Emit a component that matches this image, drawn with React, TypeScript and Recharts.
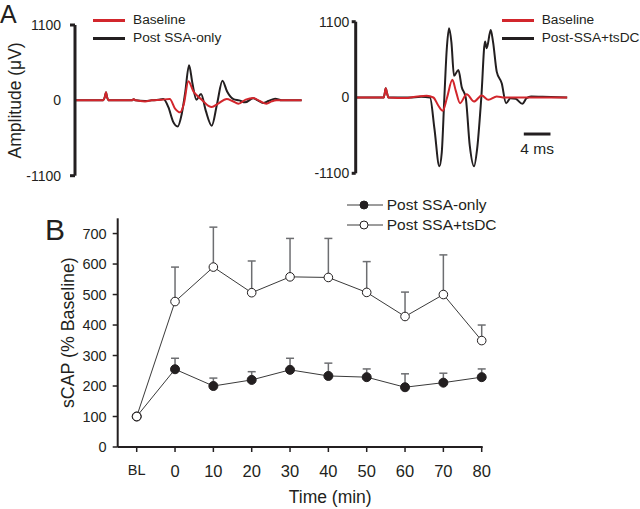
import { LineChart, Line, XAxis, YAxis, ErrorBar, Legend, ReferenceLine } from 'recharts'

const FONT = 'Arial, "Liberation Sans", Helvetica, sans-serif'
const INK = '#231f20'
const RED = '#d2262c'
const BAR = '#6d6e71'

// Panel A, left: compound action potential, time in ms, amplitude in µV
const leftBaseTime = [0, 4.2, 4.5, 4.65, 4.8, 5.1, 8.5, 8.8, 9.1, 10.5, 11.5, 13, 14.2, 15.0, 15.75, 16.3, 17.0, 17.75, 18.4, 19.0, 20.0, 20.5, 21.4, 22.75, 23.6, 24.5, 25.6, 26.7, 27.7, 28.7, 29.5, 30.2, 34]
const leftBaseAmp = [0, 0, 60, 117, 50, 0, 0, 15, 0, -15, 0, 10, 20, -120, -175, -60, 278, 131, 60, 10, -80, -97, -50, 19, -10, -49, 10, 34, -10, -49, -15, 0, 0]
const leftPostTime = [0, 4.2, 4.5, 4.65, 4.8, 5.1, 8.5, 8.8, 9.1, 10.5, 11.5, 12.5, 13.24, 14.0, 14.7, 15.4, 16.0, 16.5, 17.1, 17.6, 18.2, 18.9, 19.6, 20.5, 21.3, 22.1, 22.8, 23.75, 24.6, 25.5, 26.7, 27.4, 28.2, 29.0, 30.0, 31.0, 34]
const leftPostAmp = [0, 0, 60, 117, 50, 0, 0, 15, 0, -10, 0, 10, 19, -100, -310, -380, -200, 100, 511, 250, 10, 93, -150, -370, -50, 287, 130, 19, 0, -29, 29, 0, -39, -10, 24, 0, 0]

// Panel A, right
const rightBaseTime = [0, 4.2, 4.35, 4.5, 4.7, 4.9, 7.7, 8.2, 10.64, 11.64, 12.4, 13.04, 13.7, 14.49, 15.0, 15.64, 16.64, 17.74, 18.89, 19.89, 21.14, 22.3, 31.7]
const rightBaseAmp = [0, 0, 60, 136, 60, 0, -8, 0, 24, 0, -120, -193, 0, 256, 100, -82, 48, -58, 29, -34, 15, 0, 0]
const rightPostTime = [0, 4.2, 4.35, 4.5, 4.7, 4.9, 8.0, 9.8, 11.14, 11.8, 12.54, 12.9, 13.29, 13.65, 14.0, 14.35, 14.74, 15.39, 15.9, 16.49, 17.1, 17.74, 18.2, 18.83, 19.39, 19.64, 20.24, 20.6, 21.14, 21.89, 22.54, 23.2, 24.0, 24.99, 25.6, 26.3, 28.0, 31.7]
const rightPostAmp = [0, 0, 60, 136, 60, 0, 0, 10, 0, -450, -999, -800, 0, 700, 1004, 800, 314, 400, 150, 0, -700, -999, -750, 0, 811, 714, 979, 800, 376, 207, -82, -10, -20, -92, -10, 15, 10, 0]

const ampTicks = [-1100, 0, 1100]

// Panel B
const timeLabels = ['BL', '0', '10', '20', '30', '40', '50', '60', '70', '80']
const ssaOnlyMean = [100, 255, 200, 220, 253, 233, 229, 196, 211, 229]
const ssaOnlySem = [0, 36, 26, 27, 38, 42, 27, 44, 31, 27]
const ssaTsdcMean = [100, 477, 590, 506, 558, 556, 507, 428, 500, 349]
const ssaTsdcSem = [0, 113, 131, 104, 126, 128, 101, 80, 130, 51]
const pctTicks = [0, 100, 200, 300, 400, 500, 600, 700]

const pts = (t: number[], v: number[]) => t.map((x, i) => ({ t: x, v: v[i] }))

const summaryData = timeLabels.map((time, i) => ({
  time,
  only: ssaOnlyMean[i],
  onlyErr: [0, ssaOnlySem[i]],
  tsdc: ssaTsdcMean[i],
  tsdcErr: [0, ssaTsdcSem[i]],
}))

const TraceLegend = ({ payload }: any) => {
  const items = [...(payload || [])].sort((a: any, b: any) => (a.value === 'Baseline' ? -1 : b.value === 'Baseline' ? 1 : 0))
  return (
    <div style={{ fontSize: 13.7, color: INK, lineHeight: '18px', whiteSpace: 'nowrap' }}>
      {items.map((e: any) => (
        <div key={e.value} style={{ display: 'flex', alignItems: 'center', height: 18 }}>
          <span style={{ display: 'inline-block', width: 32, height: 3, background: e.color, marginRight: 8 }} />
          {e.value}
        </div>
      ))}
    </div>
  )
}

const groupOrder = ['only', 'tsdc']
const groupFill: Record<string, string> = { only: INK, tsdc: '#ffffff' }

const GroupLegend = ({ payload }: any) => {
  const items = [...(payload || [])].sort((a: any, b: any) => groupOrder.indexOf(a.dataKey) - groupOrder.indexOf(b.dataKey))
  return (
    <div style={{ fontSize: 15.5, color: INK, whiteSpace: 'nowrap' }}>
      {items.map((e: any) => (
        <div key={e.value} style={{ display: 'flex', alignItems: 'center', height: 20 }}>
          <svg width={36} height={10}>
            <line x1={0} x2={36} y1={5} y2={5} stroke="#3a3a3a" strokeWidth={1} />
            <circle cx={17} cy={5} r={4} fill={groupFill[e.dataKey]} stroke={INK} strokeWidth={1} />
          </svg>
          <span style={{ marginLeft: 4 }}>{e.value}</span>
        </div>
      ))}
    </div>
  )
}

type TraceProps = {
  baseT: number[]
  baseV: number[]
  postT: number[]
  postV: number[]
  postName: string
  axisWidth: number
  top: number
  bottom: number
  right: number
  tickSize: number
  tickMargin: number
  legendLeft: number
  yLabel?: string
  scaleBar?: boolean
}

function TracePanel(p: TraceProps) {
  const ampTick = ({ x, y, payload }: any) => (
    <g>
      {payload.value !== 0 && (
        <line x1={x + p.tickMargin} x2={x + p.tickMargin + p.tickSize} y1={y} y2={y} stroke={INK} strokeWidth={3} />
      )}
      <text x={x} y={y} dy="0.355em" textAnchor="end" fontSize={14} fill={INK}>
        {payload.value}
      </text>
    </g>
  )
  return (
    <LineChart width={320} height={190} margin={{ top: p.top, right: p.right, bottom: p.bottom, left: 0 }}>
      <XAxis type="number" dataKey="t" domain={[0, 34]} hide allowDataOverflow />
      <YAxis
        type="number"
        domain={[-1100, 1100]}
        ticks={ampTicks}
        interval={0}
        width={p.axisWidth}
        axisLine={{ stroke: INK, strokeWidth: 3 }}
        tickLine={false}
        tickSize={p.tickSize}
        tickMargin={p.tickMargin}
        tick={ampTick}
        label={
          p.yLabel
            ? { value: p.yLabel, angle: -90, position: 'insideLeft', offset: 15, fontSize: 17.5, fill: INK, style: { textAnchor: 'middle' } }
            : undefined
        }
      />
      <Line data={pts(p.postT, p.postV)} dataKey="v" name={p.postName} type="monotone" stroke={INK} strokeWidth={2} dot={false} isAnimationActive={false} />
      <Line data={pts(p.baseT, p.baseV)} dataKey="v" name="Baseline" type="monotone" stroke={RED} strokeWidth={2} dot={false} isAnimationActive={false} />
      {p.scaleBar && (
        <ReferenceLine
          segment={[{ x: 25.2, y: -530 }, { x: 29.2, y: -530 }]}
          stroke={INK}
          strokeWidth={3}
          label={{ value: '4 ms', position: 'bottom', offset: 9, fontSize: 15.5, fill: INK }}
        />
      )}
      <Legend
        layout="vertical"
        align="center"
        verticalAlign="middle"
        wrapperStyle={{ left: p.legendLeft, top: 11, width: 200 }}
        content={(props: any) => <TraceLegend {...props} />}
      />
    </LineChart>
  )
}

const TimeTick = ({ x, y, payload }: any) => (
  <text x={x} y={y} dy="0.71em" textAnchor="middle" fontSize={payload.value === 'BL' ? 14.5 : 16.5} fill={INK}>
    {payload.value}
  </text>
)

function SummaryPanel() {
  return (
    <LineChart width={640} height={319} data={summaryData} margin={{ top: 28.3, right: 157.3, bottom: 0, left: 0 }}>
      <XAxis
        dataKey="time"
        padding={{ left: 19, right: 1 }}
        height={62}
        interval={0}
        tickSize={5}
        tickMargin={13}
        axisLine={{ stroke: INK, strokeWidth: 2 }}
        tickLine={{ stroke: INK, strokeWidth: 1.5 }}
        tick={(props: any) => <TimeTick {...props} />}
        label={{ value: 'Time (min)', position: 'insideBottom', offset: 6, dx: 30, fontSize: 17.5, fill: INK }}
      />
      <YAxis
        type="number"
        domain={[0, 750]}
        ticks={pctTicks}
        interval={0}
        width={117.7}
        tickSize={5}
        tickMargin={6}
        axisLine={{ stroke: INK, strokeWidth: 2 }}
        tickLine={{ stroke: INK, strokeWidth: 1.5 }}
        tick={{ fill: INK, fontSize: 14.5 }}
        label={{ value: 'sCAP (% Baseline)', angle: -90, position: 'insideLeft', offset: 67.7, fontSize: 17.8, fill: INK, style: { textAnchor: 'middle' } }}
      />
      <Line
        dataKey="only"
        name="Post SSA-only"
        type="linear"
        stroke="#3a3a3a"
        strokeWidth={1}
        dot={{ r: 4.5, fill: INK, stroke: INK, strokeWidth: 1 }}
        isAnimationActive={false}
      >
        <ErrorBar dataKey="onlyErr" direction="y" width={4} stroke={BAR} strokeWidth={1.5} />
      </Line>
      <Line
        dataKey="tsdc"
        name="Post SSA+tsDC"
        type="linear"
        stroke="#3a3a3a"
        strokeWidth={1}
        dot={{ r: 4.3, fill: '#ffffff', stroke: INK, strokeWidth: 1 }}
        isAnimationActive={false}
      >
        <ErrorBar dataKey="tsdcErr" direction="y" width={4} stroke={BAR} strokeWidth={1.5} />
      </Line>
      <Legend
        layout="vertical"
        align="center"
        verticalAlign="middle"
        wrapperStyle={{ left: 346.7, top: 5, width: 200 }}
        content={(props: any) => <GroupLegend {...props} />}
      />
    </LineChart>
  )
}

export default function App() {
  return (
    <div style={{ position: 'absolute', left: 0, top: 0, width: 640, height: 509, background: '#fff', fontFamily: FONT, color: INK, overflow: 'hidden' }}>
      <style>{'.recharts-surface { overflow: visible; }'}</style>
      <div style={{ position: 'absolute', left: 0, top: 0 }}>
        <TracePanel
          baseT={leftBaseTime}
          baseV={leftBaseAmp}
          postT={leftPostTime}
          postV={leftPostAmp}
          postName="Post SSA-only"
          axisWidth={75}
          top={25}
          bottom={14.3}
          right={18.2}
          tickSize={5}
          tickMargin={9}
          legendLeft={93}
          yLabel="Amplitude (μV)"
        />
      </div>
      <div style={{ position: 'absolute', left: 320, top: 0 }}>
        <TracePanel
          baseT={rightBaseTime}
          baseV={rightBaseAmp}
          postT={rightPostTime}
          postV={rightPostAmp}
          postName="Post-SSA+tsDC"
          axisWidth={35.7}
          top={21.7}
          bottom={16.7}
          right={57.5}
          tickSize={4}
          tickMargin={2.5}
          legendLeft={181.7}
          scaleBar
        />
      </div>
      <div style={{ position: 'absolute', left: 0, top: 190 }}>
        <SummaryPanel />
      </div>
      <div style={{ position: 'absolute', left: 0, top: 2, fontSize: 25, lineHeight: 1 }}>A</div>
      <div style={{ position: 'absolute', left: 45, top: 214.6, fontSize: 30, lineHeight: 1 }}>B</div>
    </div>
  )
}
